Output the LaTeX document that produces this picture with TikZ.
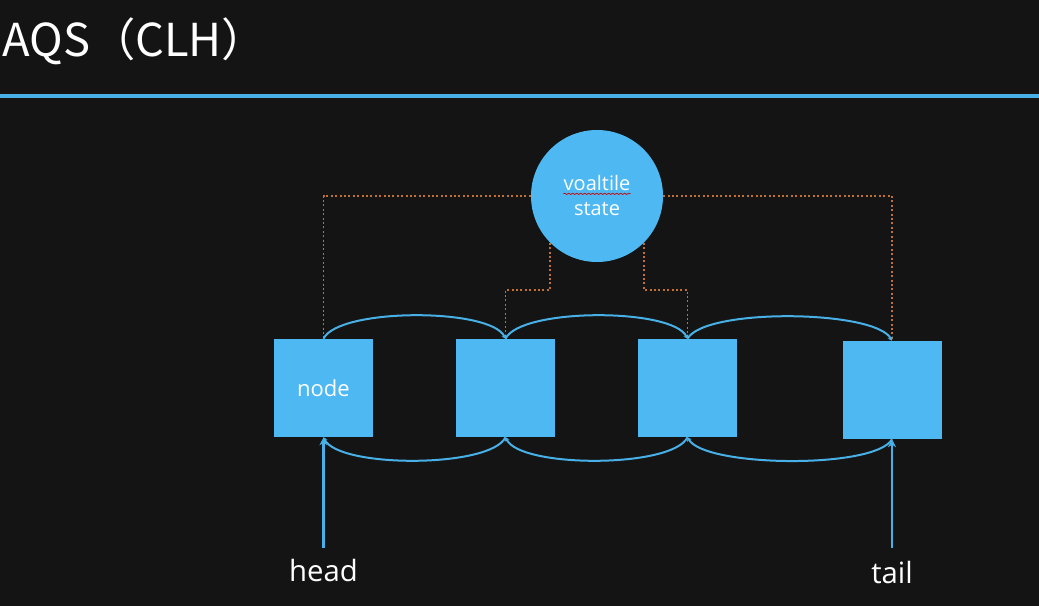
\documentclass[tikz,border=0pt]{standalone}
\usepackage{fontspec}
\setmainfont{Open Sans}
\newfontfamily\cjk{Noto Sans CJK SC}
\usetikzlibrary{arrows.meta,decorations.pathmorphing}
\definecolor{bg}{HTML}{141414}
\definecolor{boxblue}{HTML}{4DB8F2}
\definecolor{lineblue}{HTML}{48B0E6}
\definecolor{dotorange}{HTML}{C07032}
\tikzset{
  qnode/.style={rectangle, fill=boxblue, minimum width=74.25pt, minimum height=73.5pt, inner sep=0pt, text=white, font=\fontsize{16.5}{19}\selectfont},
  statecircle/.style={circle, fill=boxblue, minimum size=99pt, inner sep=0pt},
  statetext/.style={text=white, inner sep=0pt, font=\fontsize{15}{17}\selectfont},
  link/.style={draw=lineblue, line width=1.5pt, -{Stealth[length=3pt,width=4pt]}},
  ptr/.style={draw=lineblue, line width=1.6pt, -{Stealth[length=6pt,width=6pt]}},
  dots/.style={draw=dotorange, line width=1.4pt, dash pattern=on 1.5pt off 1.8pt},
  lbl/.style={text=white, font=\fontsize{22}{26}\selectfont, inner sep=1pt},
}
\begin{document}
\begin{tikzpicture}[x=0.75pt,y=-0.75pt]
\fill[bg] (0,0) rectangle (1039,606);
\useasboundingbox (0,0) rectangle (1039,606);
% title
\node[anchor=base west, text=white, inner sep=0pt, font=\cjk\fontsize{34}{40}\selectfont] (title) at (2,57) {AQS（CLH）};
\coordinate (hl) at (0,96);
\coordinate (hr) at (1039,96);
\draw[lineblue, line width=3pt] (hl) -- (hr);
% state circle
\node[statecircle] (st) at (597,196) {};
\node[statetext] (v1) at (597,183) {voaltile};
\node[statetext] (v2) at (597,209) {state};
\draw[red!80!black, line width=0.5pt, decorate, decoration={snake, amplitude=0.5pt, segment length=3pt}]
  ([yshift=-2.5pt]v1.base west) -- ([yshift=-2.5pt]v1.base east);
% queue nodes
\node[qnode] (n1) at (323.5,388) {node};
\node[qnode] (n2) at (505.5,388) {};
\node[qnode] (n3) at (687.5,388) {};
\node[qnode] (n4) at (892,390) {};
% dotted links to state
\coordinate (k1) at (505.5,290);
\coordinate (k2) at (687.5,290);
\draw[dots] (st.west) -| (n1.north);
\draw[dots] (st.east) -| (n4.north);
\draw[dots] (st.225) |- (k1) -- (n2.north);
\draw[dots] (st.315) |- (k2) -- (n3.north);
% next links
\draw[link] (n1.north) .. controls +(15,-31) and +(-15,-31) .. (n2.north);
\draw[link] (n2.north) .. controls +(15,-31) and +(-15,-31) .. (n3.north);
\draw[link] (n3.north) .. controls +(17,-31) and +(-17,-31) .. (n4.north);
% prev links
\draw[link] (n2.south) .. controls +(-15,31) and +(15,31) .. (n1.south);
\draw[link] (n3.south) .. controls +(-15,31) and +(15,31) .. (n2.south);
\draw[link] (n4.south) .. controls +(-17,30) and +(17,30) .. (n3.south);
% head / tail
\node[lbl] (head) at (323.5,570) {head};
\node[lbl] (tail) at (892,572) {tail};
\coordinate (hs) at (323.5,548);
\coordinate (ts) at (892,548);
\draw[ptr] (hs) -- (n1.south);
\draw[ptr] (ts) -- (n4.south);
\end{tikzpicture}
\end{document}
